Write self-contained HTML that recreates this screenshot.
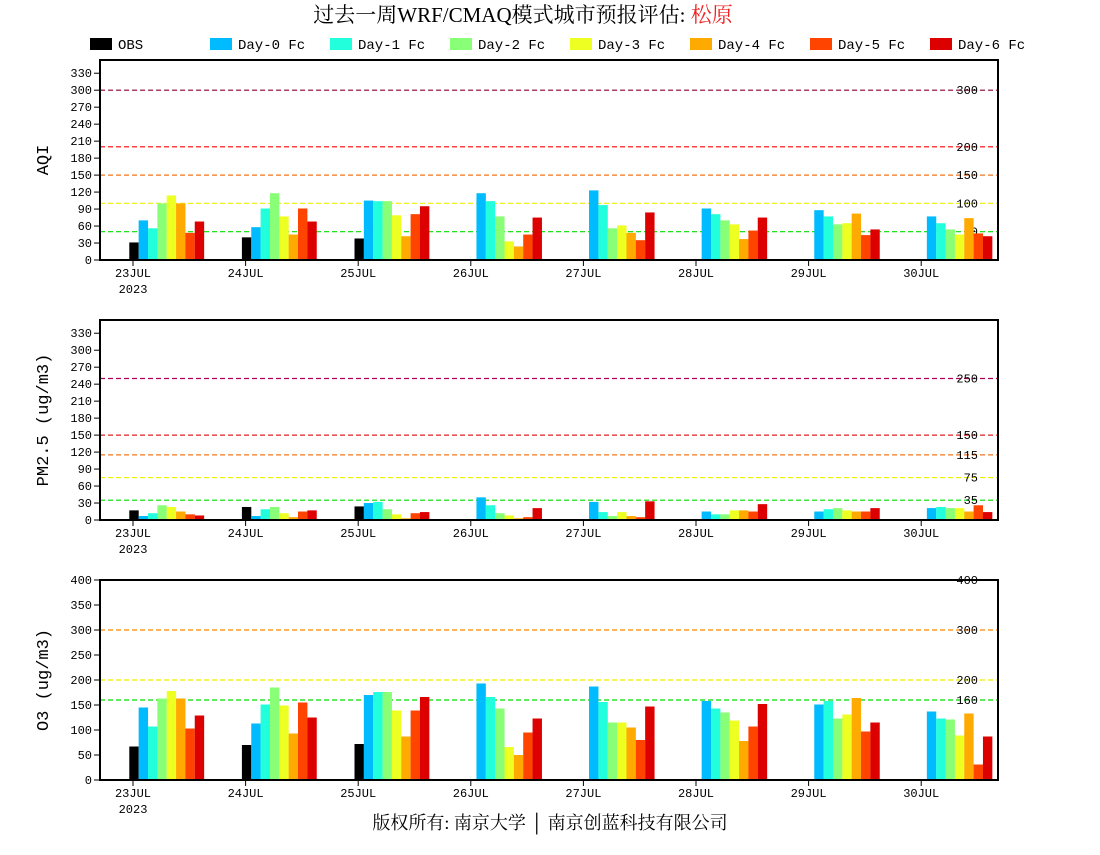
<!DOCTYPE html>
<html><head><meta charset="utf-8"><style>
body{margin:0;background:#fff;}
svg text{font-family:"Liberation Mono","Noto Sans CJK SC",monospace;}
</style></head><body>
<svg id="c" width="1100" height="850" xmlns="http://www.w3.org/2000/svg">
<text x="523" y="22" text-anchor="middle" font-size="21" style="font-family:'Liberation Serif','Noto Serif CJK SC',serif">过去一周WRF/CMAQ模式城市预报评估: <tspan fill="#ee2222">松原</tspan></text>
<text x="550" y="829" text-anchor="middle" font-size="18" style="font-family:'Liberation Serif','Noto Serif CJK SC',serif">版权所有: 南京大学 │ 南京创蓝科技有限公司</text>
</svg>
<script>
const days=["23JUL","24JUL","25JUL","26JUL","27JUL","28JUL","29JUL","30JUL"];
const seriesNames=["OBS","Day-0 Fc","Day-1 Fc","Day-2 Fc","Day-3 Fc","Day-4 Fc","Day-5 Fc","Day-6 Fc"];
const seriesColors=["#000000","#00bbff","#22ffdd","#88ff77","#eeff22","#ffaa00","#ff4400","#dd0000"];
// values per day: [OBS, D0..D6]
const aqiVals=[[31,70,56,100,114,100,48,68],[40,58,91,118,77,45,91,68],[38,105,104,104,79,42,81,95],[null,118,104,77,33,24,45,75],[null,123,97,56,61,48,35,84],[null,91,81,70,63,37,52,75],[null,88,77,63,65,82,44,54],[null,77,65,54,45,74,47,42]];
const pmVals=[[17,7,12,26,23,15,10,8],[23,7,19,23,12,5,15,17],[24,30,32,19,10,3,12,14],[null,40,26,12,8,3,5,21],[null,32,14,7,14,7,5,33],[null,15,10,10,17,17,15,28],[null,15,19,21,17,15,15,21],[null,21,23,21,21,15,26,14]];
const o3Vals=[[67,145,107,163,178,163,103,129],[70,113,151,185,149,93,155,125],[72,170,176,176,139,87,139,166],[null,193,166,143,66,50,95,123],[null,187,156,115,115,105,80,147],[null,158,143,135,119,78,107,152],[null,151,158,123,131,164,97,115],[null,137,123,121,89,133,31,87]];
const aqiTicks=[0,30,60,90,120,150,180,210,240,270,300,330];
const pmTicks=[0,30,60,90,120,150,180,210,240,270,300,330];
const o3Ticks=[0,50,100,150,200,250,300,350,400];
const aqiLines=[[300,"#880033"],[200,"#ff0000"],[150,"#ee7722"],[100,"#eeee22"],[50,"#00dd00"]];
const pmLines=[[250,"#aa0055"],[150,"#dd2222"],[115,"#ee7722"],[75,"#eeee00"],[35,"#00dd00"]];
const o3Lines=[[400,"#ee0000"],[300,"#ff8800"],[200,"#eeee00"],[160,"#00dd00"]];

const NS="http://www.w3.org/2000/svg";
const svg=document.getElementById('c');
function mk(tag,attrs,parent){const e=document.createElementNS(NS,tag);for(const k in attrs)e.setAttribute(k,attrs[k]);(parent||svg).appendChild(e);return e;}

// legend
seriesNames.forEach((n,i)=>{
  const g=mk('g',{});
  
  
  const bx=90+120*i;
  mk('rect',{x:bx,y:38,width:22,height:12,fill:seriesColors[i]},g);
  const t=mk('text',{x:bx+28,y:49,'font-size':14},g);t.textContent=n;
});

function panel(name,top,ymax,scale,ticks,lines,vals,title){
  const X0=100,X1=998,B=top+200;
  const y=v=>B-v*scale;
  const xd=i=>133+112.6*i;
  const g=mk('g',{});
  
  
  lines.forEach(([v,c])=>{
    const l=mk('line',{x1:X0,x2:X1,y1:y(v),y2:y(v),stroke:c,'stroke-width':1.2,'stroke-dasharray':'5,3'},g);
    
    
    const t=mk('text',{x:978,y:y(v)+4,'text-anchor':'end','font-size':12},g);t.textContent=v;
  });
  vals.forEach((row,d)=>{
    row.forEach((v,s)=>{
      if(v==null)return;
      const r=mk('rect',{x:xd(d)-3.7+9.35*s,y:y(v),width:9.4,height:v*scale,fill:seriesColors[s]},g);
      
      
    });
  });
  ticks.forEach(v=>{
    mk('line',{x1:X0-6,x2:X0,y1:y(v),y2:y(v),stroke:'#000'},g);
    const t=mk('text',{x:X0-8,y:y(v)+4,'text-anchor':'end','font-size':12},g);t.textContent=v;
  });
  days.forEach((d,i)=>{
    mk('line',{x1:xd(i),x2:xd(i),y1:B,y2:B+6,stroke:'#000'},g);
    const t=mk('text',{x:xd(i),y:B+17,'text-anchor':'middle','font-size':12},g);t.textContent=d;
  });
  const yr=mk('text',{x:xd(0),y:B+33,'text-anchor':'middle','font-size':12},g);yr.textContent="2023";
  mk('rect',{x:X0,y:top,width:X1-X0,height:200,fill:'none',stroke:'#000','stroke-width':2},g);
  const tt=mk('text',{x:0,y:0,'text-anchor':'middle','font-size':17,transform:`translate(48,${top+100}) rotate(-90)`},g);
  
  
  tt.textContent=title;
}
panel('aqi',60,353,0.566,aqiTicks,aqiLines,aqiVals,'AQI');
panel('pm25',320,353,0.566,pmTicks,pmLines,pmVals,'PM2.5 (ug/m3)');
panel('o3',580,400,0.5,o3Ticks,o3Lines,o3Vals,'O3 (ug/m3)');
</script>
</body></html>
